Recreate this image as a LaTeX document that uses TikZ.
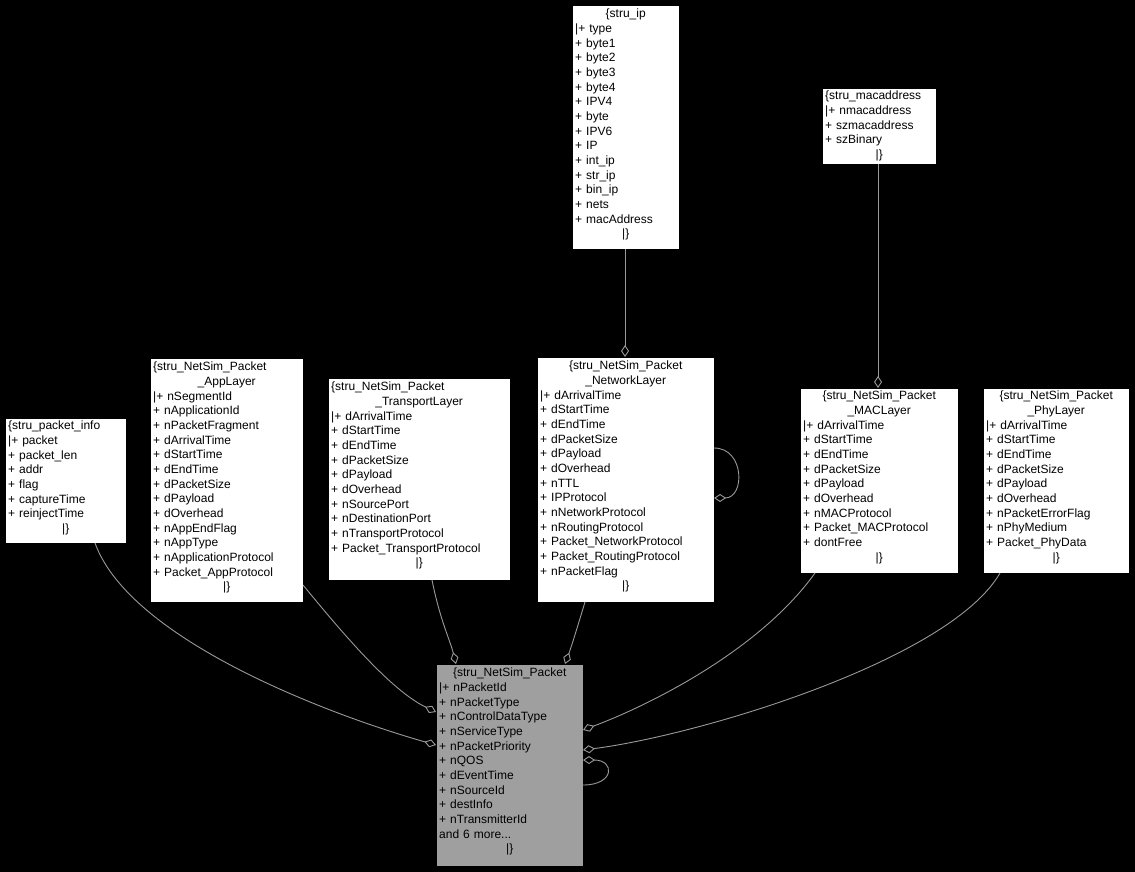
\documentclass[tikz,border=0pt]{standalone}
\usepackage{fontspec}
\setmainfont{Liberation Sans}
\usetikzlibrary{arrows.meta}
\begin{document}
\begin{tikzpicture}[x=1pt,y=-1pt,
  box/.style={draw=black,fill=white,line width=0.8pt,anchor=north west,inner sep=0pt},
  txt/.style={anchor=north west,inner sep=0pt,align=left,font=\fontsize{12}{14.67}\selectfont,text=black},
  edge/.style={draw=gray!80,line width=0.9pt,-{Diamond[open,length=12pt,width=8pt]}}]
\fill[black] (0,0) rectangle (1135,872);
\useasboundingbox (0,0) rectangle (1135,872);
\newcommand\C[1]{\hfill#1\hfill\null}
% boxes
\node[box,minimum width=107pt,minimum height=244pt] (ip) at (572,5) {};
\node[txt,text width=101pt] at (575,9) {\C{\{stru\_ip}\\|+ type\\+ byte1\\+ byte2\\+ byte3\\+ byte4\\+ IPV4\\+ byte\\+ IPV6\\+ IP\\+ int\_ip\\+ str\_ip\\+ bin\_ip\\+ nets\\+ macAddress\\\C{|\}}};
\node[box,minimum width=114pt,minimum height=76pt] (mac) at (822,88) {};
\node[txt,text width=108pt] at (825,91) {\{stru\_macaddress\\|+ nmacaddress\\+ szmacaddress\\+ szBinary\\\C{|\}}};
\node[box,minimum width=121pt,minimum height=125pt] (pi) at (5,418) {};
\node[txt,text width=115pt] at (8,421) {\{stru\_packet\_info\\|+ packet\\+ packet\_len\\+ addr\\+ flag\\+ captureTime\\+ reinjectTime\\\C{|\}}};
\node[box,minimum width=153pt,minimum height=244pt] (app) at (150,358) {};
\node[txt,text width=147pt] at (153,362) {\{stru\_NetSim\_Packet\\\C{\_AppLayer}\\|+ nSegmentId\\+ nApplicationId\\+ nPacketFragment\\+ dArrivalTime\\+ dStartTime\\+ dEndTime\\+ dPacketSize\\+ dPayload\\+ dOverhead\\+ nAppEndFlag\\+ nAppType\\+ nApplicationProtocol\\+ Packet\_AppProtocol\\\C{|\}}};
\node[box,minimum width=182pt,minimum height=202pt] (tr) at (328,378) {};
\node[txt,text width=176pt] at (331,382) {\{stru\_NetSim\_Packet\\\C{\_TransportLayer}\\|+ dArrivalTime\\+ dStartTime\\+ dEndTime\\+ dPacketSize\\+ dPayload\\+ dOverhead\\+ nSourcePort\\+ nDestinationPort\\+ nTransportProtocol\\+ Packet\_TransportProtocol\\\C{|\}}};
\node[box,minimum width=177pt,minimum height=245pt] (nw) at (537,357) {};
\node[txt,text width=171pt] at (540,361) {\C{\{stru\_NetSim\_Packet}\\\C{\_NetworkLayer}\\|+ dArrivalTime\\+ dStartTime\\+ dEndTime\\+ dPacketSize\\+ dPayload\\+ dOverhead\\+ nTTL\\+ IPProtocol\\+ nNetworkProtocol\\+ nRoutingProtocol\\+ Packet\_NetworkProtocol\\+ Packet\_RoutingProtocol\\+ nPacketFlag\\\C{|\}}};
\node[box,minimum width=158pt,minimum height=185pt] (ml) at (800,388) {};
\node[txt,text width=152pt] at (803,391) {\C{\{stru\_NetSim\_Packet}\\\C{\_MACLayer}\\|+ dArrivalTime\\+ dStartTime\\+ dEndTime\\+ dPacketSize\\+ dPayload\\+ dOverhead\\+ nMACProtocol\\+ Packet\_MACProtocol\\+ dontFree\\\C{|\}}};
\node[box,minimum width=146pt,minimum height=185pt] (ph) at (983,388) {};
\node[txt,text width=140pt] at (986,391) {\C{\{stru\_NetSim\_Packet}\\\C{\_PhyLayer}\\|+ dArrivalTime\\+ dStartTime\\+ dEndTime\\+ dPacketSize\\+ dPayload\\+ dOverhead\\+ nPacketErrorFlag\\+ nPhyMedium\\+ Packet\_PhyData\\\C{|\}}};
\node[box,fill=gray!75,minimum width=147pt,minimum height=202pt] (np) at (436,664) {};
\node[txt,text width=141pt] at (439,668) {\C{\{stru\_NetSim\_Packet}\\|+ nPacketId\\+ nPacketType\\+ nControlDataType\\+ nServiceType\\+ nPacketPriority\\+ nQOS\\+ dEventTime\\+ nSourceId\\+ destInfo\\+ nTransmitterId\\and 6 more...\\\C{|\}}};
% edges
\coordinate (ipb) at (625,249); \coordinate (nwt) at (625,357);
\draw[edge] (ipb) -- (nwt);
\coordinate (macb) at (878,164); \coordinate (mlt) at (878,388);
\draw[edge] (macb) -- (mlt);
\coordinate (nw1) at (714,448); \coordinate (nw2) at (714,498);
\draw[edge] (nw1) .. controls (745,448) and (745,498) .. (nw2);
\coordinate (pib) at (95,543); \coordinate (np1) at (436,745);
\draw[edge] (pib) .. controls (130,640) and (330,715) .. (np1);
\coordinate (appb) at (303,585); \coordinate (np2) at (436,712);
\draw[edge] (appb) .. controls (340,630) and (390,690) .. (np2);
\coordinate (trb) at (432,580); \coordinate (np3) at (456,664);
\draw[edge] (trb) .. controls (440,620) and (450,640) .. (np3);
\coordinate (nwb) at (585,602); \coordinate (np4) at (565,664);
\draw[edge] (nwb) .. controls (578,625) and (572,645) .. (np4);
\coordinate (mlb) at (815,573); \coordinate (np5) at (583,730);
\draw[edge] (mlb) .. controls (760,650) and (650,705) .. (np5);
\coordinate (phb) at (1000,573); \coordinate (np6) at (583,750);
\draw[edge] (phb) .. controls (950,660) and (700,735) .. (np6);
\coordinate (np7) at (583,760); \coordinate (np8) at (583,785);
\draw[edge] (np8) .. controls (615,785) and (615,760) .. (np7);
\end{tikzpicture}
\end{document}
